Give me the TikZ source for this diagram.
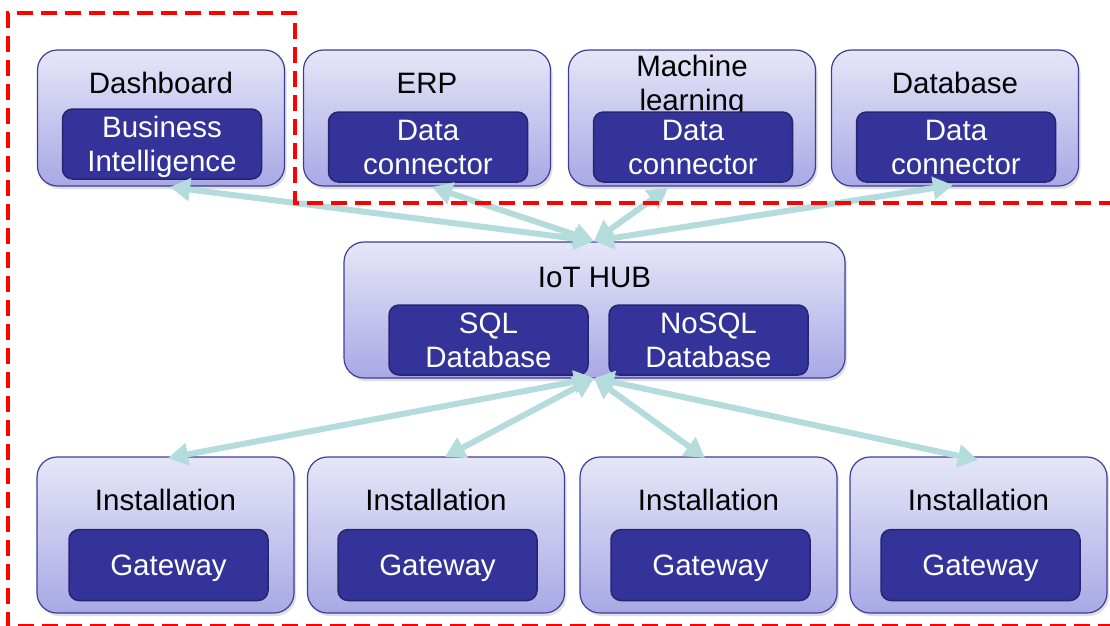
\documentclass[tikz,border=0pt]{standalone}
\usepackage{fontspec}
\setmainfont{Liberation Sans}
\usetikzlibrary{arrows.meta,shadows}
\definecolor{boxtop}{RGB}{230,230,248}
\definecolor{boxbot}{RGB}{168,168,230}
\definecolor{boxline}{RGB}{62,62,150}
\definecolor{innerfill}{RGB}{51,51,153}
\definecolor{innerline}{RGB}{38,38,110}
\definecolor{linkcol}{RGB}{180,220,220}
\newcommand{\lowered}[1]{\raisebox{-3pt}[\height][\depth]{#1}}
\tikzset{
  outerbox/.style={draw=boxline, line width=1.2pt, rounded corners=20pt, top color=boxtop, bottom color=boxbot,
    drop shadow={opacity=0.25, shadow xshift=2pt, shadow yshift=-3pt}, inner sep=0pt},
  innerbox/.style={draw=innerline, line width=1.5pt, rounded corners=10pt, fill=innerfill, text=white,
    minimum width=199pt, align=center, inner sep=0pt, font=\fontsize{29.5}{34}\selectfont},
  lbl/.style={align=center, inner sep=0pt, font=\fontsize{29.5}{34}\selectfont},
  link/.style={draw=linkcol, line width=6pt, {Triangle[width=22pt,length=20pt]}-{Triangle[width=22pt,length=20pt]}},
  zone/.style={draw=red, line width=4pt, dash pattern=on 16pt off 8pt}
}
\begin{document}
\begin{tikzpicture}[x=1pt,y=-1pt]
\useasboundingbox (0,0) rectangle (1110,625);
% top row
\node[outerbox, minimum width=247pt, minimum height=136pt] (dash) at (161,118){};
\node[lbl] (dashT) at (161,83){Dashboard};
\node[innerbox, minimum height=70pt] (dashBI) at (162,144){\lowered{\parbox{190pt}{\centering Business\\Intelligence}}};
\node[outerbox, minimum width=247pt, minimum height=136pt] (erp) at (427,118){};
\node[lbl] (erpT) at (427,83){ERP};
\node[innerbox, minimum height=70pt] (erpDC) at (428,147){Data\\connector};
\node[outerbox, minimum width=247pt, minimum height=136pt] (ml) at (692,118){};
\node[lbl] (mlT) at (692,86){Machine\\learning};
\node[innerbox, minimum height=70pt] (mlDC) at (693,147){Data\\connector};
\node[outerbox, minimum width=247pt, minimum height=136pt] (db) at (955,118){};
\node[lbl] (dbT) at (955,83){Database};
\node[innerbox, minimum height=70pt] (dbDC) at (956,147){Data\\connector};
% hub
\node[outerbox, minimum width=501pt, minimum height=136pt] (hub) at (594.5,310){};
\node[lbl] (hubT) at (594.5,277){IoT HUB};
\node[innerbox, minimum height=70pt] (sql) at (488.5,340){SQL\\Database};
\node[innerbox, minimum height=70pt] (nosql) at (708.5,340){NoSQL\\Database};
% bottom row
\node[outerbox, minimum width=257pt, minimum height=156pt] (inst1) at (165.5,535){};
\node[lbl] (inst1T) at (165.5,500){Installation};
\node[innerbox, minimum height=71pt] (gw1) at (168.5,565){\lowered{Gateway}};
\node[outerbox, minimum width=257pt, minimum height=156pt] (inst2) at (436,535){};
\node[lbl] (inst2T) at (436,500){Installation};
\node[innerbox, minimum height=71pt] (gw2) at (437.5,565){\lowered{Gateway}};
\node[outerbox, minimum width=257pt, minimum height=156pt] (inst3) at (708.5,535){};
\node[lbl] (inst3T) at (708.5,500){Installation};
\node[innerbox, minimum height=71pt] (gw3) at (710.5,565){\lowered{Gateway}};
\node[outerbox, minimum width=257pt, minimum height=156pt] (inst4) at (978.5,535){};
\node[lbl] (inst4T) at (978.5,500){Installation};
\node[innerbox, minimum height=71pt] (gw4) at (980.5,565){\lowered{Gateway}};
% links
\coordinate (hubN) at (594,241);
\coordinate (hubS) at (594,378);
\coordinate (dashS) at (170,187);
\coordinate (erpS) at (432,187);
\coordinate (mlS) at (668,188);
\coordinate (dbS) at (953,185);
\draw[link] (hubN) -- (dashS);
\draw[link] (hubN) -- (erpS);
\draw[link] (hubN) -- (mlS);
\draw[link] (hubN) -- (dbS);
\coordinate (inst1N) at (168,458);
\coordinate (inst2N) at (445,457);
\coordinate (inst3N) at (705,458);
\coordinate (inst4N) at (978,460);
\draw[link] (hubS) -- (inst1N);
\draw[link] (hubS) -- (inst2N);
\draw[link] (hubS) -- (inst3N);
\draw[link] (hubS) -- (inst4N);
% zone
\draw[zone] (1115,203) -- (295,203) -- (295,13) -- (8,13) -- (8,626) -- (1115,626);
\end{tikzpicture}
\end{document}
